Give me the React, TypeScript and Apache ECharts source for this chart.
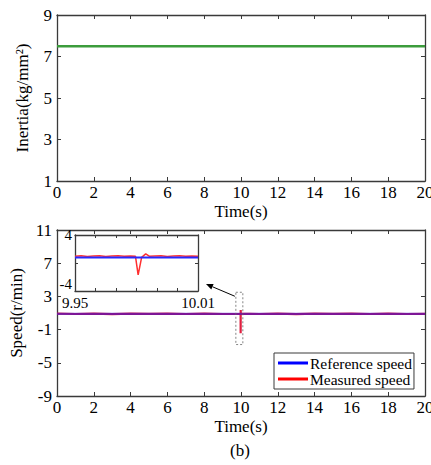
import React, { useEffect, useRef } from "react";
import * as echarts from "echarts";

// ---- Data ----
const inertiaTime = [0, 20];
const inertiaValue = [7.5, 7.5];

const refTime = [0, 20];
const refSpeed = [0.9, 0.9];

const measTime = [0, 1, 2, 3, 4, 5, 6, 7, 8, 9, 9.979, 9.9808, 9.9825, 9.9845, 9.9862, 11, 12, 13, 14, 15, 16, 17, 18, 19, 20];
const measSpeed = [0.92, 0.88, 0.93, 0.87, 0.92, 0.89, 0.93, 0.88, 0.92, 0.88, 0.9, -1.45, 0.9, 1.35, 0.92, 0.88, 0.93, 0.87, 0.92, 0.89, 0.93, 0.88, 0.92, 0.88, 0.9];

const zoomRefTime = [9.95, 10.01];
const zoomRefSpeed = [0.8, 0.8];

const zoomMeasTime = [9.95, 9.953, 9.956, 9.959, 9.962, 9.965, 9.968, 9.971, 9.974, 9.977, 9.9795, 9.9808, 9.9825, 9.9845, 9.9862, 9.989, 9.992, 9.995, 9.998, 10.001, 10.004, 10.007, 10.01];
const zoomMeasSpeed = [0.97, 1.02, 0.94, 1.0, 1.03, 0.94, 1.0, 1.02, 0.96, 1.0, 0.95, -1.7, 0.8, 1.3, 0.97, 1.0, 1.03, 0.94, 1.0, 1.02, 0.96, 1.0, 0.97];

const timeTicks = { min: 0, max: 20, interval: 2 };
const inertiaTicks = { min: 1, max: 9, interval: 2 };
const speedTicks = { min: -9, max: 11, interval: 4 };
const zoomTimeTicks = { min: 9.95, max: 10.01, interval: 0.01 };
const zoomSpeedTicks = { min: -4, max: 4, interval: 4 };

const FONT = "Liberation Serif";
const AXIS_COLOR = "#3a3a3a";

function pair(t: number[], v: number[]) {
  return t.map((x, i) => [x, v[i]]);
}

function mainAxis(gridIndex: number, pos: string, ticks: any, opts: any = {}) {
  return {
    type: "value",
    gridIndex,
    position: pos,
    min: ticks.min,
    max: ticks.max,
    interval: ticks.interval,
    splitLine: { show: false },
    axisLine: { show: true, onZero: false, lineStyle: { color: AXIS_COLOR, width: 1.3 } },
    axisTick: { show: true, inside: true, length: 4, lineStyle: { color: AXIS_COLOR, width: 1 } },
    axisLabel: { show: false },
    ...opts,
  };
}

export default function App() {
  const ref = useRef<HTMLDivElement>(null);
  useEffect(() => {
    document.body.style.margin = "0";
    const chart = echarts.init(ref.current!, null, { renderer: "svg" });
    const label = (size: number, margin: number, extra: any = {}) => ({
      show: true,
      color: "#000",
      fontFamily: FONT,
      fontSize: size,
      margin,
      ...extra,
    });
    const option: any = {
      animation: false,
      backgroundColor: "#fff",
      grid: [
        { left: 57, top: 15, width: 368, height: 166, outerBoundsMode: "none", containLabel: false },
        { left: 57, top: 230, width: 368, height: 166, outerBoundsMode: "none", containLabel: false },
        { left: 75, top: 235, width: 123, height: 56, show: true, backgroundColor: "#fff", borderWidth: 0, z: 5, outerBoundsMode: "none", containLabel: false },
      ],
      xAxis: [
        mainAxis(0, "bottom", timeTicks, {
          axisLabel: label(17, 3),
          name: "Time(s)",
          nameLocation: "middle",
          nameGap: 22,
          nameTextStyle: { color: "#000", fontFamily: FONT, fontSize: 17 },
        }),
        mainAxis(0, "top", timeTicks),
        mainAxis(1, "bottom", timeTicks, {
          axisLabel: label(17, 3),
          name: "Time(s)",
          nameLocation: "middle",
          nameGap: 22,
          nameTextStyle: { color: "#000", fontFamily: FONT, fontSize: 17 },
        }),
        mainAxis(1, "top", timeTicks),
        mainAxis(2, "bottom", zoomTimeTicks, {
          z: 6,
          axisTick: { show: true, inside: true, length: 3, lineStyle: { color: AXIS_COLOR, width: 1 } },
          axisLabel: label(15, 4, {
            formatter: (v: number) =>
              Math.abs(v - 9.95) < 1e-6 ? "9.95" : Math.abs(v - 10.01) < 1e-6 ? "10.01" : "",
            showMinLabel: true,
            showMaxLabel: true,
          }),
        }),
        mainAxis(2, "top", zoomTimeTicks, {
          z: 6,
          axisTick: { show: true, inside: true, length: 3, lineStyle: { color: AXIS_COLOR, width: 1 } },
        }),
      ],
      yAxis: [
        mainAxis(0, "left", inertiaTicks, {
          axisLabel: label(17, 5),
          name: "Inertia(kg/mm²)",
          nameLocation: "middle",
          nameGap: 26,
          nameTextStyle: { color: "#000", fontFamily: FONT, fontSize: 17 },
        }),
        mainAxis(0, "right", inertiaTicks),
        mainAxis(1, "left", speedTicks, {
          axisLabel: label(17, 5),
          name: "Speed(r/min)",
          nameLocation: "middle",
          nameGap: 26,
          nameTextStyle: { color: "#000", fontFamily: FONT, fontSize: 17 },
        }),
        mainAxis(1, "right", speedTicks),
        mainAxis(2, "left", zoomSpeedTicks, {
          z: 6,
          axisTick: { show: true, inside: true, length: 3, lineStyle: { color: AXIS_COLOR, width: 1 } },
          axisLabel: label(15, 3, {
            formatter: (v: number) => (v === 0 ? "" : String(v)),
            verticalAlignMinLabel: "bottom",
          }),
        }),
        mainAxis(2, "right", zoomSpeedTicks, {
          z: 6,
          axisTick: { show: true, inside: true, length: 3, lineStyle: { color: AXIS_COLOR, width: 1 } },
        }),
      ],
      legend: {
        orient: "vertical",
        left: 274,
        top: 353,
        width: 143,
        padding: [2, 2, 2, 4],
        itemGap: 0,
        itemWidth: 30,
        itemHeight: 3,
        icon: "rect",
        borderColor: AXIS_COLOR,
        borderWidth: 1,
        backgroundColor: "#fff",
        textStyle: { color: "#000", fontFamily: FONT, fontSize: 15.5, lineHeight: 16, padding: [0, 0, 0, -3] },
        data: [
          { name: "Reference speed", itemStyle: { color: "#0000ff" } },
          { name: "Measured speed", itemStyle: { color: "#ff0000" } },
        ],
      },
      series: [
        {
          name: "Inertia",
          type: "line",
          xAxisIndex: 0,
          yAxisIndex: 0,
          data: pair(inertiaTime, inertiaValue),
          symbol: "none",
          lineStyle: { color: "#3c9c3c", width: 2.5 },
          itemStyle: { color: "#3c9c3c" },
        },
        {
          name: "Measured speed",
          type: "line",
          xAxisIndex: 2,
          yAxisIndex: 2,
          data: pair(measTime, measSpeed),
          symbol: "none",
          lineStyle: { color: "#e02040", width: 2.2 },
          itemStyle: { color: "#ff0000" },
        },
        {
          name: "Reference speed",
          type: "line",
          xAxisIndex: 2,
          yAxisIndex: 2,
          data: pair(refTime, refSpeed),
          symbol: "none",
          lineStyle: { color: "#3a10d0", width: 2.2, opacity: 0.6 },
          itemStyle: { color: "#0000ff" },
        },
        {
          name: "Measured speed",
          type: "line",
          xAxisIndex: 4,
          yAxisIndex: 4,
          z: 7,
          data: pair(zoomMeasTime, zoomMeasSpeed),
          symbol: "none",
          lineStyle: { color: "#ff3030", width: 1.5 },
          itemStyle: { color: "#ff0000" },
        },
        {
          name: "Reference speed",
          type: "line",
          xAxisIndex: 4,
          yAxisIndex: 4,
          z: 8,
          data: pair(zoomRefTime, zoomRefSpeed),
          symbol: "none",
          lineStyle: { color: "#2828ff", width: 2 },
          itemStyle: { color: "#0000ff" },
        },
      ],
    };
    chart.setOption(option);

    // annotations positioned via the chart's own coordinate conversion
    const p1 = chart.convertToPixel({ gridIndex: 1 } as any, [9.72, 3.5]) as number[];
    const p2 = chart.convertToPixel({ gridIndex: 1 } as any, [10.1, -2.8]) as number[];
    const tail = [p1[0] - 1, p1[1] + 4];
    const head = [206, 284];
    const ang = Math.atan2(head[1] - tail[1], head[0] - tail[0]);
    const L = 7, W = 3;
    const bx = head[0] - L * Math.cos(ang), by = head[1] - L * Math.sin(ang);
    const nx = -Math.sin(ang), ny = Math.cos(ang);
    chart.setOption({
      graphic: [
        {
          type: "rect",
          shape: { x: p1[0], y: p1[1], width: p2[0] - p1[0], height: p2[1] - p1[1] },
          style: { fill: "none", stroke: "#666", lineWidth: 0.8, lineDash: [2, 2] },
          z: 10,
        },
        {
          type: "line",
          shape: { x1: tail[0], y1: tail[1], x2: bx, y2: by },
          style: { stroke: "#000", lineWidth: 1 },
          z: 10,
        },
        {
          type: "polygon",
          shape: { points: [head, [bx + nx * W, by + ny * W], [bx - nx * W, by - ny * W]] },
          style: { fill: "#000" },
          z: 10,
        },
        {
          type: "text",
          x: 240,
          y: 450,
          style: { text: "(b)", font: `17px "${FONT}"`, fill: "#000", textAlign: "center", textVerticalAlign: "middle" },
        },
      ],
    });
    return () => chart.dispose();
  }, []);
  return <div ref={ref} style={{ width: 431, height: 465 }} />;
}
